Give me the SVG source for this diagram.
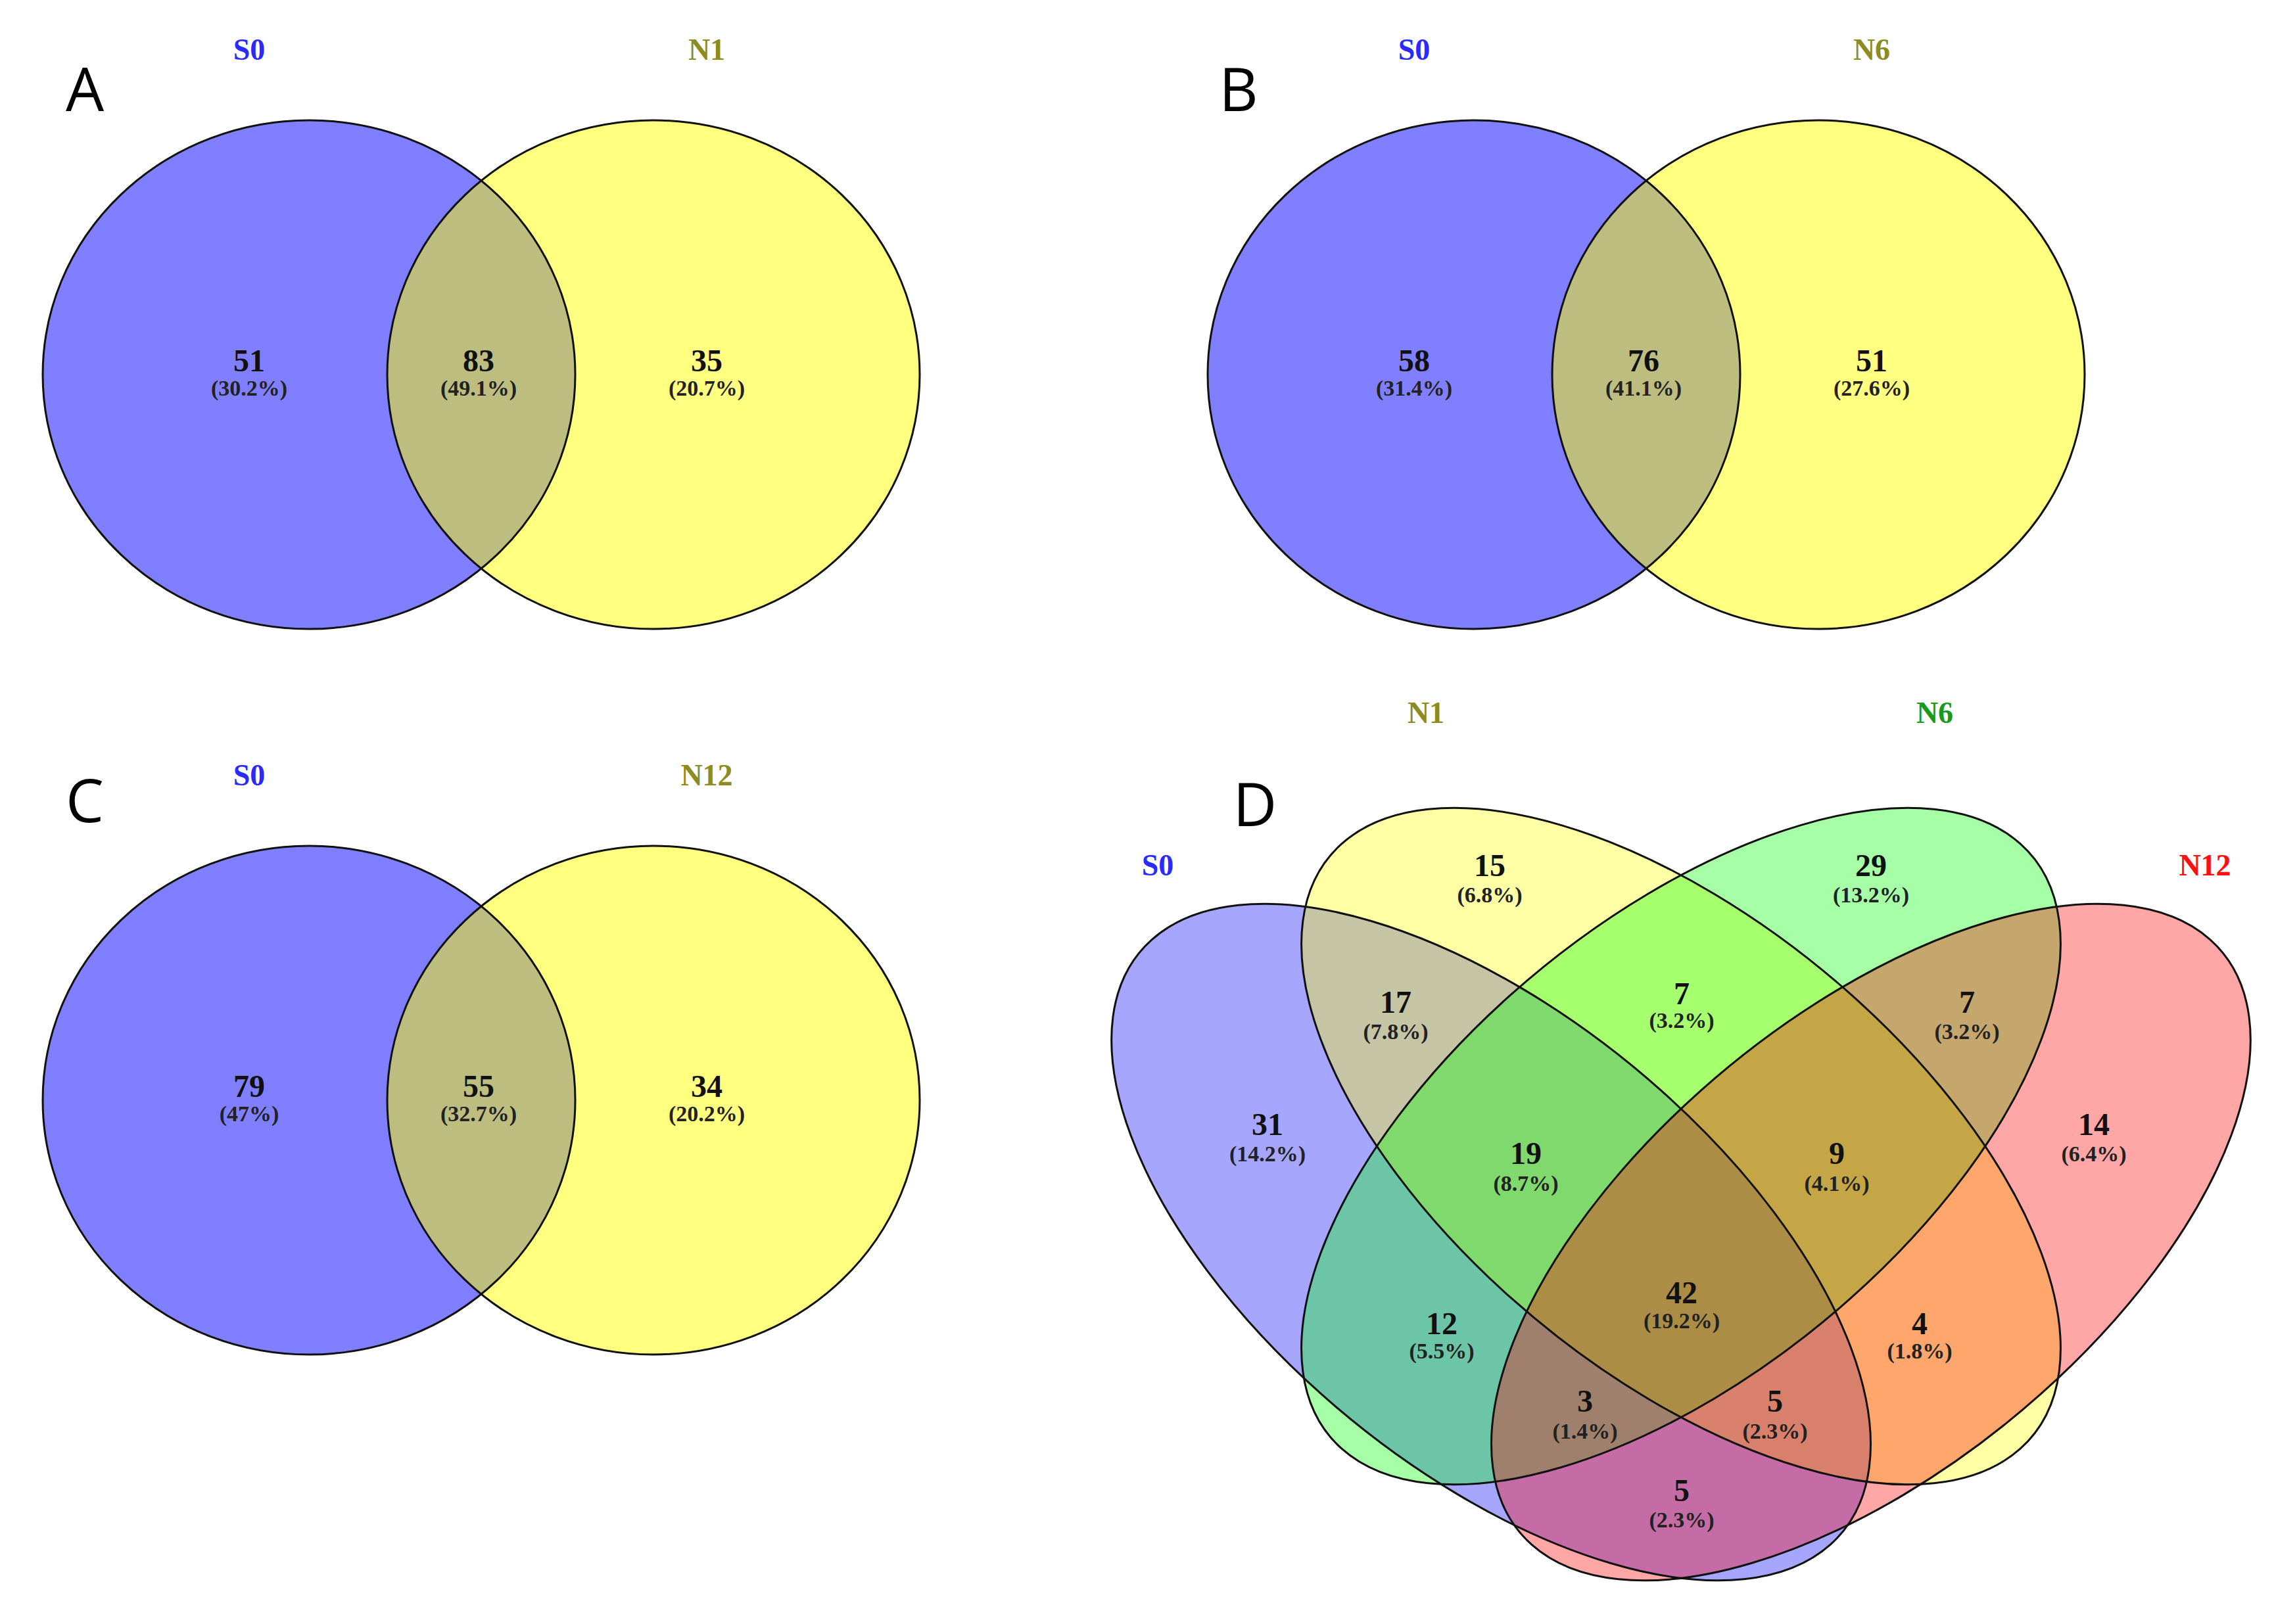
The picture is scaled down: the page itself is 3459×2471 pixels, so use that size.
<svg xmlns="http://www.w3.org/2000/svg" width="3459" height="2471" viewBox="0 0 3459 2471">
<style>
.n{font-family:"Liberation Serif",serif;font-weight:bold;font-size:48px;text-anchor:middle;dominant-baseline:central;fill:#111}
.p{font-family:"Liberation Serif",serif;font-weight:bold;font-size:34px;text-anchor:middle;dominant-baseline:central;fill:#222}
.t{font-family:"Liberation Serif",serif;font-weight:bold;font-size:46px;text-anchor:middle;dominant-baseline:central}
.L{font-family:"Open Sans","Liberation Sans",sans-serif;font-size:92px;text-anchor:middle;dominant-baseline:central;fill:#000}
.c{stroke:#111;stroke-width:3}
.e{stroke:#111;stroke-width:3;vector-effect:non-scaling-stroke}
</style>
<defs>
<clipPath id="clA"><ellipse cx="470" cy="570" rx="405" ry="387"/></clipPath>
</defs>
<rect width="3459" height="2471" fill="#fff"/>
<g id="panelA">
<text class="L" x="129" y="133">A</text>
<text class="t" x="379" y="75" fill="#2a2aff">S0</text>
<text class="t" x="1075" y="75" fill="#8c8c20">N1</text>
<ellipse cx="470" cy="570" rx="405" ry="387" fill="#7f7fff"/>
<ellipse cx="994" cy="570" rx="405" ry="387" fill="#ffff80"/>
<ellipse cx="994" cy="570" rx="405" ry="387" fill="#bdbd80" clip-path="url(#clA)"/>
<ellipse class="c" cx="470" cy="570" rx="405" ry="387" fill="none"/>
<ellipse class="c" cx="994" cy="570" rx="405" ry="387" fill="none"/>
<text class="n" x="379" y="548">51</text><text class="p" x="379" y="590">(30.2%)</text>
<text class="n" x="728" y="548">83</text><text class="p" x="728" y="590">(49.1%)</text>
<text class="n" x="1075" y="548">35</text><text class="p" x="1075" y="590">(20.7%)</text>
</g>
<g id="panelB" transform="translate(1772,0)">
<text class="L" x="112" y="133">B</text>
<text class="t" x="379" y="75" fill="#2a2aff">S0</text>
<text class="t" x="1075" y="75" fill="#8c8c20">N6</text>
<ellipse cx="470" cy="570" rx="405" ry="387" fill="#7f7fff"/>
<ellipse cx="994" cy="570" rx="405" ry="387" fill="#ffff80"/>
<ellipse cx="994" cy="570" rx="405" ry="387" fill="#bdbd80" clip-path="url(#clA)"/>
<ellipse class="c" cx="470" cy="570" rx="405" ry="387" fill="none"/>
<ellipse class="c" cx="994" cy="570" rx="405" ry="387" fill="none"/>
<text class="n" x="379" y="548">58</text><text class="p" x="379" y="590">(31.4%)</text>
<text class="n" x="728" y="548">76</text><text class="p" x="728" y="590">(41.1%)</text>
<text class="n" x="1075" y="548">51</text><text class="p" x="1075" y="590">(27.6%)</text>
</g>
<g id="panelC" transform="translate(0,1104)">
<text class="L" x="129" y="111">C</text>
<text class="t" x="379" y="75" fill="#2a2aff">S0</text>
<text class="t" x="1075" y="75" fill="#8c8c20">N12</text>
<ellipse cx="470" cy="570" rx="405" ry="387" fill="#7f7fff"/>
<ellipse cx="994" cy="570" rx="405" ry="387" fill="#ffff80"/>
<ellipse cx="994" cy="570" rx="405" ry="387" fill="#bdbd80" clip-path="url(#clA)"/>
<ellipse class="c" cx="470" cy="570" rx="405" ry="387" fill="none"/>
<ellipse class="c" cx="994" cy="570" rx="405" ry="387" fill="none"/>
<text class="n" x="379" y="548">79</text><text class="p" x="379" y="590">(47%)</text>
<text class="n" x="728" y="548">55</text><text class="p" x="728" y="590">(32.7%)</text>
<text class="n" x="1075" y="548">34</text><text class="p" x="1075" y="590">(20.2%)</text>
</g>
<g id="panelD">
<text class="L" x="1909" y="1221">D</text>
<text class="t" x="1761" y="1316" fill="#2a2aff">S0</text>
<text class="t" x="2169" y="1084" fill="#8c8c20">N1</text>
<text class="t" x="2943" y="1084" fill="#1a9a1a">N6</text>
<text class="t" x="3354" y="1316" fill="#ff1010">N12</text>
<g transform="matrix(1926,0,0,-1717,1594,2697)">
<ellipse id="eS0" cx="0.35" cy="0.47" rx="0.379" ry="0.19" transform="rotate(-45 0.35 0.47)" fill="#0000ff" fill-opacity="0.35"/>
<ellipse id="eN1" cx="0.5" cy="0.555" rx="0.379" ry="0.19" transform="rotate(-45 0.5 0.555)" fill="#ffff00" fill-opacity="0.35"/>
<ellipse id="eN6" cx="0.5" cy="0.555" rx="0.379" ry="0.19" transform="rotate(45 0.5 0.555)" fill="#00ff00" fill-opacity="0.35"/>
<ellipse id="eN12" cx="0.65" cy="0.47" rx="0.379" ry="0.19" transform="rotate(45 0.65 0.47)" fill="#ff0000" fill-opacity="0.35"/>
<ellipse class="e" cx="0.35" cy="0.47" rx="0.379" ry="0.19" transform="rotate(-45 0.35 0.47)" fill="none"/>
<ellipse class="e" cx="0.5" cy="0.555" rx="0.379" ry="0.19" transform="rotate(-45 0.5 0.555)" fill="none"/>
<ellipse class="e" cx="0.5" cy="0.555" rx="0.379" ry="0.19" transform="rotate(45 0.5 0.555)" fill="none"/>
<ellipse class="e" cx="0.65" cy="0.47" rx="0.379" ry="0.19" transform="rotate(45 0.65 0.47)" fill="none"/>
</g>
<text class="n" x="2266" y="1316">15</text><text class="p" x="2266" y="1361">(6.8%)</text>
<text class="n" x="2846" y="1316">29</text><text class="p" x="2846" y="1361">(13.2%)</text>
<text class="n" x="2123" y="1524">17</text><text class="p" x="2123" y="1569">(7.8%)</text>
<text class="n" x="2558" y="1511">7</text><text class="p" x="2558" y="1552">(3.2%)</text>
<text class="n" x="2992" y="1524">7</text><text class="p" x="2992" y="1569">(3.2%)</text>
<text class="n" x="1928" y="1710">31</text><text class="p" x="1928" y="1755">(14.2%)</text>
<text class="n" x="2321" y="1754">19</text><text class="p" x="2321" y="1800">(8.7%)</text>
<text class="n" x="2794" y="1754">9</text><text class="p" x="2794" y="1800">(4.1%)</text>
<text class="n" x="3185" y="1710">14</text><text class="p" x="3185" y="1755">(6.4%)</text>
<text class="n" x="2193" y="2013">12</text><text class="p" x="2193" y="2055">(5.5%)</text>
<text class="n" x="2558" y="1966">42</text><text class="p" x="2558" y="2009">(19.2%)</text>
<text class="n" x="2920" y="2013">4</text><text class="p" x="2920" y="2055">(1.8%)</text>
<text class="n" x="2411" y="2131">3</text><text class="p" x="2411" y="2177">(1.4%)</text>
<text class="n" x="2700" y="2131">5</text><text class="p" x="2700" y="2177">(2.3%)</text>
<text class="n" x="2558" y="2267">5</text><text class="p" x="2558" y="2312">(2.3%)</text>
</g>
<g id="connectors"></g>
</svg>
